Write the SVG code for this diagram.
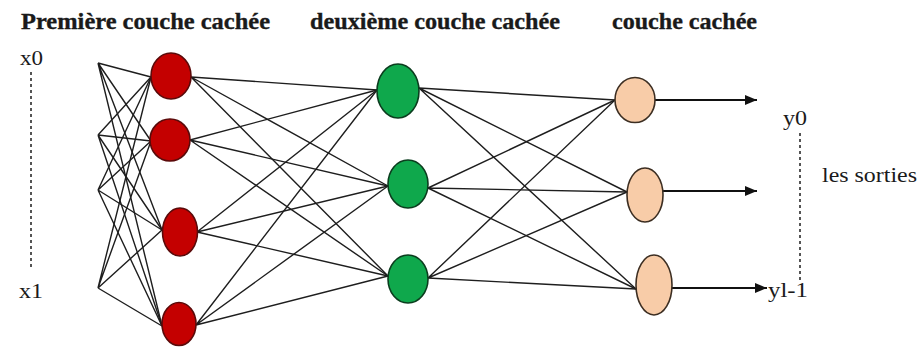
<svg xmlns="http://www.w3.org/2000/svg" width="921" height="347" viewBox="0 0 921 347">
  <style>
    .title { font-family: "Liberation Serif", "Times New Roman", serif; font-weight: bold; font-size: 24px; fill: #1a1a1a; stroke: #1a1a1a; stroke-width: 0.35; }
    .lbl { font-family: "Liberation Serif", "Times New Roman", serif; font-size: 22px; fill: #1a1a1a; }
    .edge { stroke: #1e1e1e; stroke-width: 1.4; fill: none; }
    .dash { stroke: #555; stroke-width: 2; stroke-dasharray: 3 3; fill: none; }
    .red { fill: #c40000; stroke: #5a0a0a; stroke-width: 1.6; }
    .green { fill: #0fa84c; stroke: #0b3d1e; stroke-width: 1.6; }
    .tan { fill: #f8cca8; stroke: #3c2e22; stroke-width: 1.6; }
    .out { stroke: #111; stroke-width: 1.8; fill: none; marker-end: url(#head); }
  </style>
  <defs>
    <marker id="head" markerWidth="12" markerHeight="10" refX="12" refY="5" orient="auto" markerUnits="userSpaceOnUse">
      <path d="M0,0 L12,5 L0,10 Z" fill="#111"/>
    </marker>
  </defs>

  <rect width="921" height="347" fill="#ffffff"/>

  <!-- layer titles -->
  <text class="title" x="21" y="29" textLength="249" lengthAdjust="spacingAndGlyphs">Première couche cachée</text>
  <text class="title" x="310" y="29" textLength="250" lengthAdjust="spacingAndGlyphs">deuxième couche cachée</text>
  <text class="title" x="612" y="29" textLength="145" lengthAdjust="spacingAndGlyphs">couche cachée</text>

  <!-- input / output labels -->
  <text class="lbl" x="20" y="65" textLength="23" lengthAdjust="spacingAndGlyphs">x0</text>
  <text class="lbl" x="19" y="298" textLength="24" lengthAdjust="spacingAndGlyphs">x1</text>
  <line class="dash" x1="31" y1="72" x2="31" y2="270"/>
  <text class="lbl" x="783" y="125" textLength="24" lengthAdjust="spacingAndGlyphs">y0</text>
  <text class="lbl" x="822" y="182" font-size="23" textLength="95" lengthAdjust="spacingAndGlyphs">les sorties</text>
  <text class="lbl" x="768" y="297" font-size="24" textLength="40" lengthAdjust="spacingAndGlyphs">yl-1</text>
  <line class="dash" x1="800" y1="133" x2="800" y2="280"/>

  <g id="connectors">
    <!-- inputs to first hidden layer -->
    <path class="edge" d="M98,63 L151,77 M98,63 L151,141 M98,63 L162,230 M98,63 L162,326"/>
    <path class="edge" d="M98,135 L151,77 M98,135 L151,141 M98,135 L162,230 M98,135 L162,326"/>
    <path class="edge" d="M98,190 L151,77 M98,190 L151,141 M98,190 L162,230 M98,190 L162,326"/>
    <path class="edge" d="M98,288 L151,77 M98,288 L151,141 M98,288 L162,230 M98,288 L162,326"/>
    <!-- first hidden layer to second hidden layer -->
    <path class="edge" d="M191,77 L377,90 M191,77 L388,186 M191,77 L388,276"/>
    <path class="edge" d="M190,140 L377,90 M190,140 L388,186 M190,140 L388,276"/>
    <path class="edge" d="M197,232 L377,90 M197,232 L388,186 M197,232 L388,276"/>
    <path class="edge" d="M196,325 L377,90 M196,325 L388,186 M196,325 L388,276"/>
    <!-- second hidden layer to output layer -->
    <path class="edge" d="M419,88 L615,100 M419,88 L627,192 M419,88 L636,289"/>
    <path class="edge" d="M428,188 L615,100 M428,188 L627,192 M428,188 L636,289"/>
    <path class="edge" d="M428,278 L615,100 M428,278 L627,192 M428,278 L636,289"/>
    <!-- outputs -->
    <line class="out" x1="655" y1="100" x2="757" y2="100"/>
    <line class="out" x1="663" y1="191" x2="757" y2="191"/>
    <line class="out" x1="672" y1="288" x2="767" y2="288"/>
  </g>

  <g id="h1-0"><ellipse class="red" cx="171" cy="76" rx="20" ry="23"/></g>
  <g id="h1-1"><ellipse class="red" cx="170" cy="140" rx="20" ry="21"/></g>
  <g id="h1-2"><ellipse class="red" cx="180" cy="232" rx="17.5" ry="24"/></g>
  <g id="h1-3"><ellipse class="red" cx="179" cy="324" rx="17" ry="21.5"/></g>

  <g id="h2-0"><ellipse class="green" cx="398" cy="91" rx="21" ry="27"/></g>
  <g id="h2-1"><ellipse class="green" cx="408" cy="184" rx="20" ry="24"/></g>
  <g id="h2-2"><ellipse class="green" cx="408" cy="279" rx="20" ry="24"/></g>

  <g id="o-0"><ellipse class="tan" cx="635" cy="100" rx="20" ry="22.5"/></g>
  <g id="o-1"><ellipse class="tan" cx="645" cy="195" rx="18" ry="27"/></g>
  <g id="o-2"><ellipse class="tan" cx="654" cy="285" rx="18" ry="30"/></g>
</svg>
